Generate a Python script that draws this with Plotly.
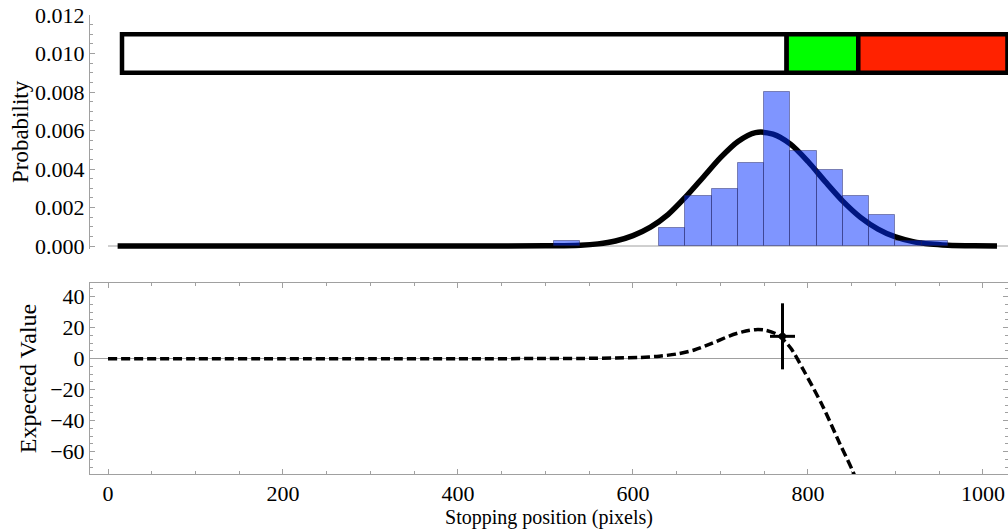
import plotly.graph_objects as go

# ---------------- data ----------------
# normal-fit curve of stopping positions
pdf_x = [11, 300, 500, 540, 560, 580, 600, 620, 640, 660, 680, 700, 720, 740,
         760, 780, 800, 820, 840, 860, 880, 900, 920, 940, 960, 990, 1016]
pdf_y = [0.0, 0.0, 0.00001, 0.00004, 0.00011, 0.00026, 0.00054, 0.00098, 0.00163,
         0.00254, 0.00356, 0.00459, 0.00543, 0.00589, 0.00581, 0.00529, 0.00439,
         0.00333, 0.00232, 0.00149, 0.00088, 0.00047, 0.00023, 0.0001, 0.00004,
         0.00001, 0.0]

# histogram of observed stopping positions
bin_left = [510, 630, 660, 690, 720, 750, 780, 810, 840, 870, 900, 930]
bin_width = 30
bin_prob = [0.00028, 0.00095, 0.0026, 0.00295, 0.0043, 0.0080, 0.00495,
            0.00395, 0.0026, 0.0016, 0.00028, 0.00028]

# screen zones (white / green / red)
zone_edges = [16, 775.6, 857.5, 1028]
zone_colors = ["#ffffff", "#00ff00", "#ff2200"]
zone_y = [0.009, 0.011]

# expected value curve
ev_x = [0, 100, 200, 300, 400, 500, 550, 580, 608, 630, 650, 670, 690, 710,
        725, 740, 752, 765, 780, 795, 817, 836, 852, 875]
ev_y = [0, 0, 0, 0, 0, 0.05, 0.2, 0.45, 0.8, 1.6, 3.0, 5.6, 9.8, 14.6,
        17.3, 18.7, 18.3, 15.5, 7.0, -7.5, -30.8, -54.4, -73.7, -110]

# chosen stopping point with spread
pt_x = [770.9]
pt_y = [14.4]
pt_err_x = 14.3
pt_err_y = 21.3

x_range = [-20.57, 1028.6]
prob_range = [-0.00015, 0.012]
ev_range = [-74.4, 48.8]

FONT = "Liberation Serif"
AXC = "#a0a0a0"

fig = go.Figure()

# top panel: fitted curve (base subplot)
fig.add_trace(go.Scatter(x=pdf_x, y=pdf_y, mode="lines", line=dict(color="black", width=5.5, shape="spline", smoothing=0.8),
                         xaxis="x", yaxis="y", showlegend=False, hoverinfo="skip"))

# histogram drawn above curve (overlay subplot)
fig.add_trace(go.Bar(x=[l + bin_width / 2 for l in bin_left], y=bin_prob, width=bin_width,
                     marker=dict(color="rgba(0,43,255,0.5)", line=dict(color="rgba(30,30,90,0.45)", width=1)),
                     xaxis="x3", yaxis="y3", showlegend=False, hoverinfo="skip"))

# bottom panel
fig.add_trace(go.Scatter(x=ev_x, y=ev_y, mode="lines",
                         line=dict(color="black", width=3.5, dash="9px,4px", shape="spline", smoothing=0.8),
                         xaxis="x2", yaxis="y2", showlegend=False, hoverinfo="skip"))
fig.add_trace(go.Scatter(x=pt_x, y=pt_y, mode="markers", marker=dict(color="black", size=7),
                         error_x=dict(type="constant", value=pt_err_x, thickness=3, width=0, color="black"),
                         error_y=dict(type="constant", value=pt_err_y, thickness=3, width=0, color="black"),
                         xaxis="x2", yaxis="y2", showlegend=False, hoverinfo="skip"))

shapes = []
for i, c in enumerate(zone_colors):
    shapes.append(dict(type="rect", xref="x", yref="y", x0=zone_edges[i], x1=zone_edges[i + 1],
                       y0=zone_y[0], y1=zone_y[1], fillcolor=c, line=dict(color="black", width=4.5),
                       layer="above"))
# top panel horizontal axis at y = 0
shapes.append(dict(type="line", xref="x", yref="y", x0=0, x1=x_range[1], y0=0, y1=0,
                   line=dict(color=AXC, width=1), layer="below"))

H = 532
t, b = 15, 58
ph = H - t - b
top_dom = [(H - b - 248.9) / ph, 1.0]
bot_dom = [0.0, (H - b - 283) / ph]

tickfont = dict(family=FONT, size=22, color="black")

fig.update_layout(
    width=1008, height=H,
    margin=dict(l=90, r=0, t=t, b=b, autoexpand=False),
    paper_bgcolor="white", plot_bgcolor="white",
    font=dict(family=FONT, color="black"),
    shapes=shapes,
    bargap=0,
    xaxis=dict(domain=[0, 1], anchor="y", range=x_range, showticklabels=False, showline=False,
               showgrid=False, zeroline=False, ticks="", automargin=False),
    yaxis=dict(domain=top_dom, anchor="x", range=prob_range, showgrid=False, zeroline=False,
               showline=True, linecolor=AXC, linewidth=1, ticks="inside", ticklen=5, tickcolor=AXC,
               tickvals=[0, 0.002, 0.004, 0.006, 0.008, 0.010, 0.012],
               ticktext=["0.000", "0.002", "0.004", "0.006", "0.008", "0.010", "0.012"],
               minor=dict(dtick=0.0005, tick0=0, ticks="inside", ticklen=3, tickcolor=AXC),
               tickfont=tickfont, automargin=False,
               title=dict(text="Probability", font=dict(family=FONT, size=23, color="black"), standoff=0)),
    xaxis3=dict(overlaying="x", anchor="y3", range=x_range, visible=False),
    yaxis3=dict(overlaying="y", anchor="x3", range=prob_range, visible=False),
    xaxis2=dict(domain=[0, 1], anchor="y2", range=x_range, showgrid=False, zeroline=False,
                showline=True, mirror="ticks", linecolor=AXC, linewidth=1,
                ticks="inside", ticklen=5, tickcolor=AXC, tick0=0, dtick=200,
                minor=dict(dtick=50, tick0=0, ticks="inside", ticklen=3, tickcolor=AXC),
                tickfont=tickfont, automargin=False,
                title=dict(text="Stopping position (pixels)", font=dict(family=FONT, size=20, color="black"), standoff=2)),
    yaxis2=dict(domain=bot_dom, anchor="x2", range=ev_range, showgrid=False,
                zeroline=True, zerolinecolor=AXC, zerolinewidth=1,
                showline=True, mirror="ticks", linecolor=AXC, linewidth=1,
                ticks="inside", ticklen=5, tickcolor=AXC, tick0=0, dtick=20,
                minor=dict(dtick=5, tick0=0, ticks="inside", ticklen=3, tickcolor=AXC),
                tickfont=tickfont, automargin=False,
                title=dict(text="Expected Value", font=dict(family=FONT, size=24, color="black"), standoff=6)),
)

fig.write_html("out.html", config={"displayModeBar": False},
               post_script="document.body.style.margin='0';document.body.style.overflow='hidden';")
